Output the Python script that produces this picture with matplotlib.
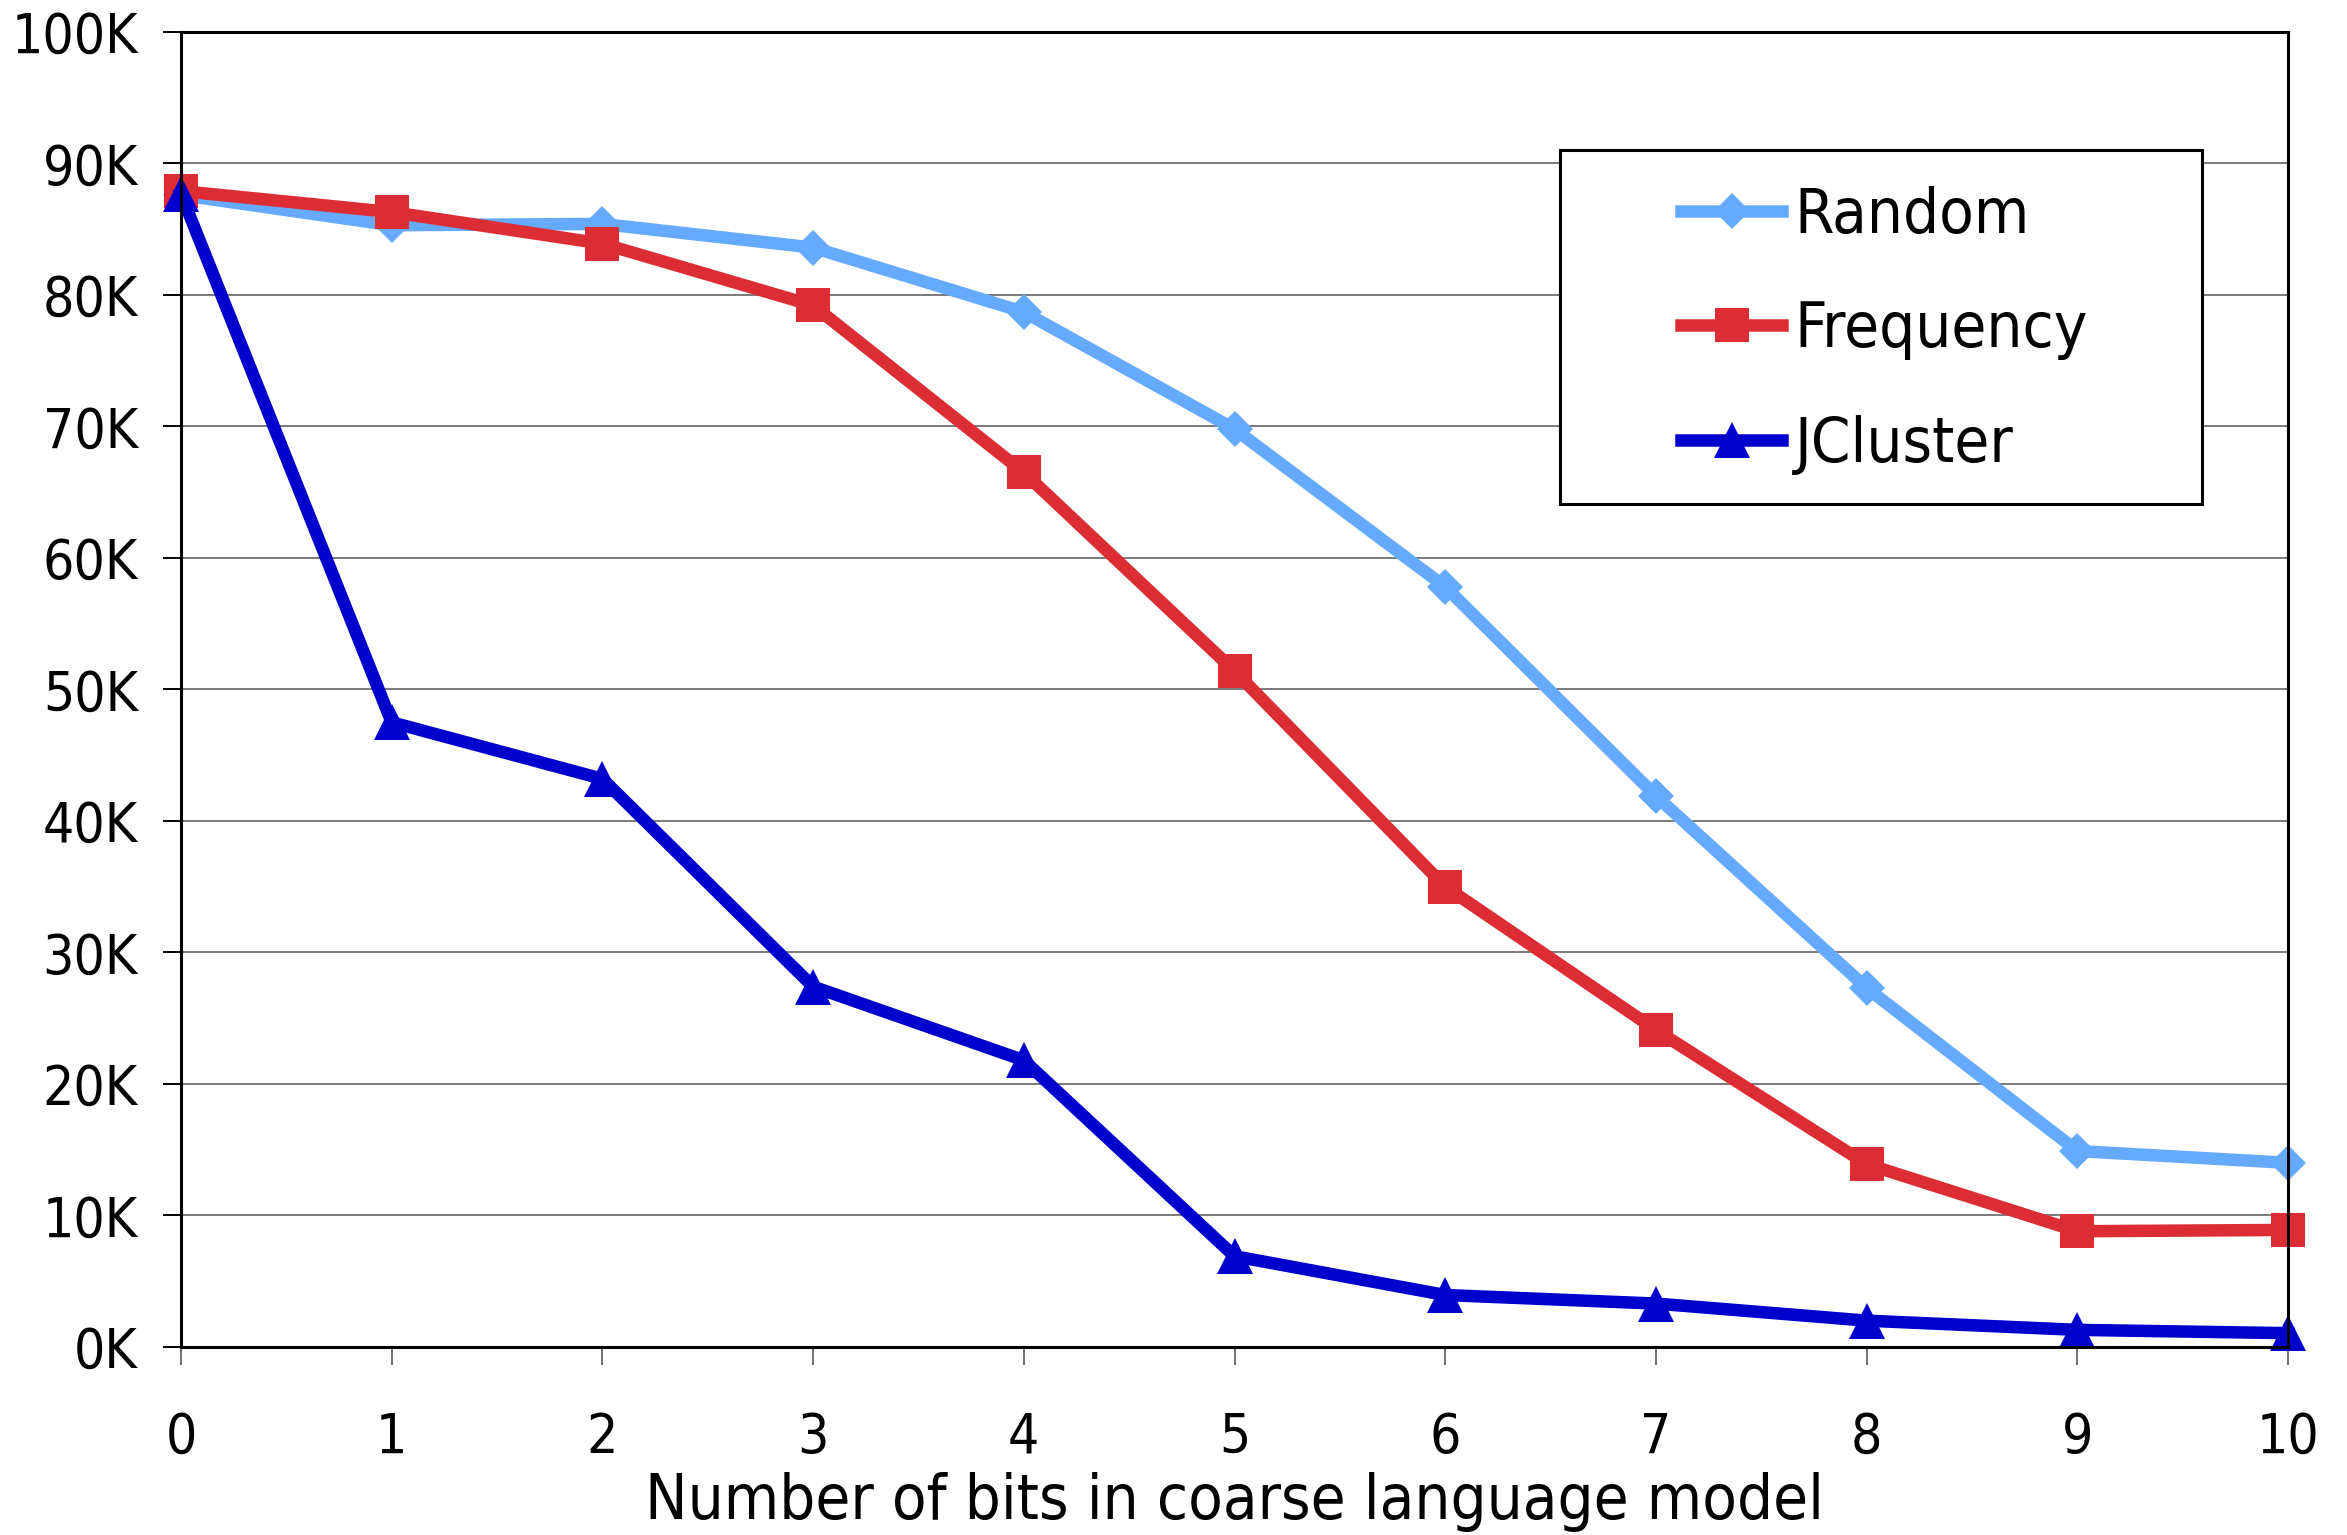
import matplotlib
matplotlib.use("Agg")
import matplotlib.pyplot as plt
from matplotlib.patches import Rectangle
from matplotlib.ticker import FuncFormatter

# perplexity-style counts per number of bits in the coarse model
bits = [0, 1, 2, 3, 4, 5, 6, 7, 8, 9, 10]
random_vals = [87.6, 85.3, 85.4, 83.6, 78.7, 69.8, 57.8, 41.9, 27.3, 14.9, 14.0]
frequency_vals = [87.9, 86.3, 83.9, 79.2, 66.5, 51.4, 35.0, 24.1, 13.9, 8.8, 8.9]
jcluster_vals = [87.7, 47.5, 43.2, 27.4, 21.8, 6.9, 3.95, 3.3, 2.0, 1.3, 1.05]
series_names = ["Random", "Frequency", "JCluster"]

plt.rcParams["font.family"] = ["DejaVu Sans"]
plt.rcParams["font.stretch"] = "condensed"

fig = plt.figure(figsize=(23.47, 15.35), dpi=100)
ax = fig.add_axes([0.0771, 0.1225, 0.8978, 0.8567])

ax.plot(bits, random_vals, color="#66aaff", lw=9, marker="D", ms=18.5,
        mew=0, label=series_names[0], zorder=3)
ax.plot(bits, frequency_vals, color="#dc2d35", lw=9, marker="s", ms=25,
        mew=0, label=series_names[1], zorder=4)
ax.plot(bits, jcluster_vals, color="#0000cc", lw=9, marker="^", ms=26,
        mew=0, label=series_names[2], zorder=5)

ax.set_xlim(0, 10)
ax.set_ylim(0, 100)
ax.set_xticks(bits)
ax.set_yticks(range(0, 101, 10))
ax.yaxis.set_major_formatter(FuncFormatter(lambda v, p: f"{int(v)}K"))
ax.grid(axis="y", color="#707070", lw=1.3)
ax.set_axisbelow(True)

for s in ax.spines.values():
    s.set_linewidth(2.2)
    s.set_color("black")
    s.set_zorder(6)

ax.tick_params(axis="y", direction="out", length=13, width=1.4,
               color="black", labelsize=39.5, pad=18)
ax.tick_params(axis="x", direction="out", length=13, width=1.4,
               color="#707070", labelsize=39.5, pad=33)
ax.set_xlabel("Number of bits in coarse language model", fontsize=45.5,
              labelpad=5)

for lbl in ax.get_xticklabels() + ax.get_yticklabels():
    lbl.set_clip_on(False)
for ln in ax.get_lines():
    ln.set_clip_on(False)

# legend box drawn separately so the handles can sit indented
fig.patches.append(Rectangle((1560 / 2347, 1 - 504 / 1535),
                             642 / 2347, 354 / 1535,
                             transform=fig.transFigure, facecolor="white",
                             edgecolor="black", lw=2.2, zorder=10))
leg = fig.legend(loc="upper left", bbox_to_anchor=(1681 / 2347, 1 - 186 / 1535),
                 frameon=False, fontsize=45.5, handlelength=1.6,
                 handletextpad=0.2, labelspacing=0.86, borderpad=0,
                 borderaxespad=0, numpoints=1)
leg.set_zorder(11)

fig.savefig("out.png", dpi=100, facecolor="white")
